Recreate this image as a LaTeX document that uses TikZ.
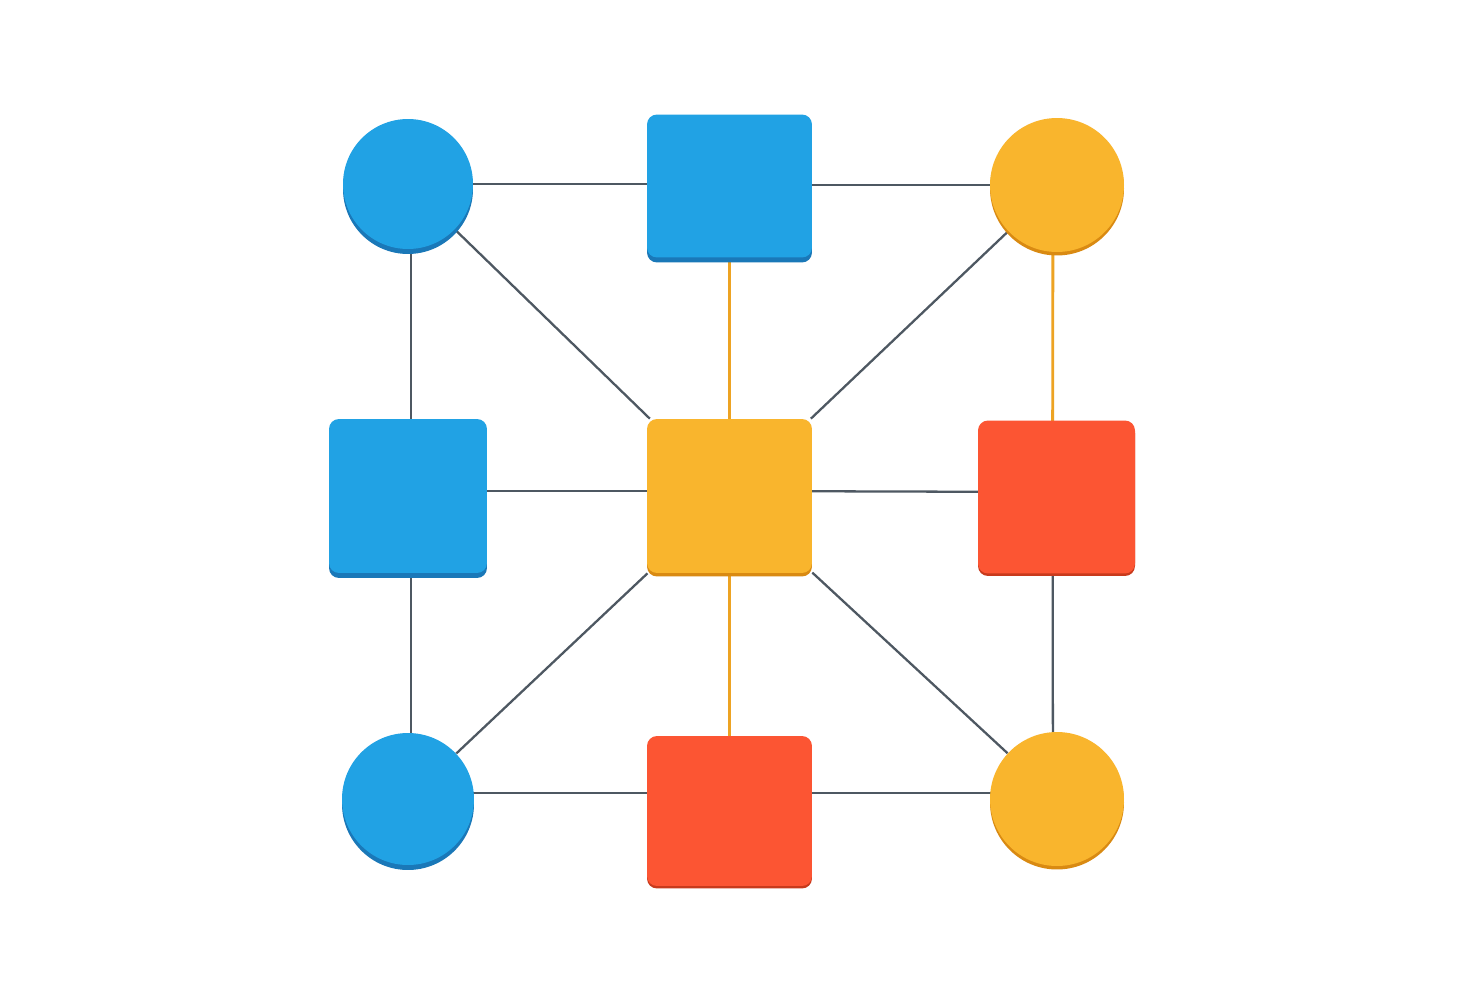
\documentclass[tikz,border=0pt]{standalone}
\usetikzlibrary{shadows,backgrounds}
\definecolor{bluef}{HTML}{21A2E4}
\definecolor{blued}{HTML}{1A78B8}
\definecolor{yelf}{HTML}{F9B52D}
\definecolor{yeld}{HTML}{D98A12}
\definecolor{redf}{HTML}{FC5533}
\definecolor{redd}{HTML}{C83A1C}
\definecolor{linegray}{HTML}{4E5862}
\definecolor{lineor}{HTML}{EDA323}
\tikzset{
  x=0.02cm, y=-0.02cm,
  disc/.style={circle, inner sep=0pt, minimum size=2.6cm},
  box/.style={rectangle, rounded corners=0.2cm, inner sep=0pt},
  bluefill/.style={fill=bluef, drop shadow={shadow xshift=0pt, shadow yshift=-0.1cm, fill=blued, opacity=1}},
  yelfill/.style={fill=yelf, drop shadow={shadow xshift=0pt, shadow yshift=-0.07cm, fill=yeld, opacity=1}},
  redfill/.style={fill=redf, drop shadow={shadow xshift=0pt, shadow yshift=-0.05cm, fill=redd, opacity=1}},
  gline/.style={draw=linegray, line width=1.3pt},
  oline/.style={draw=lineor, line width=1.6pt},
}
\begin{document}
\begin{tikzpicture}
\useasboundingbox (0,0) rectangle (1470,980);
% nodes
\node[disc, bluefill] (tl) at (408,184) {};
\node[box, bluefill, minimum width=3.3cm, minimum height=2.86cm] (tm) at (729.5,186) {};
\node[disc, yelfill, minimum size=2.68cm] (tr) at (1057,185) {};
\node[box, bluefill, minimum width=3.16cm, minimum height=3.08cm] (ml) at (408,496) {};
\node[box, yelfill, minimum width=3.3cm, minimum height=3.08cm] (c) at (729.5,496) {};
\node[box, redfill, minimum width=3.14cm, minimum height=3.06cm] (mr) at (1056.5,497) {};
\node[disc, bluefill, minimum size=2.64cm] (bl) at (408,799) {};
\node[box, redfill, minimum width=3.3cm, minimum height=3.0cm] (bm) at (729.5,811) {};
\node[disc, yelfill, minimum size=2.68cm] (br) at (1057,799) {};
% connectors
\begin{scope}[on background layer]
\fill[white] (0,0) rectangle (1470,980);
\draw[gline] (tl) -- (tl -| tm.west);
\draw[gline] (tm.east |- tr) -- (tr);
\draw[gline] ([xshift=0.06cm]tl.center) -- ([xshift=0.06cm]ml.center);
\draw[gline] (tl) -- (c);
\draw[oline] (tm) -- (c);
\draw[gline] (tr) -- (c);
\draw[oline] ([xshift=-0.08cm]tr.center) -- ([xshift=-0.08cm]mr.center);
\draw[gline] ([yshift=0.1cm]ml.center) -- ([yshift=0.1cm]c.center);
\draw[gline] ([yshift=0.1cm]c.center) -- ([yshift=0.1cm]mr.center);
\draw[gline] ([xshift=0.06cm]ml.center) -- ([xshift=0.06cm]bl.center);
\draw[gline] (c) -- (bl);
\draw[oline] (c) -- (bm);
\draw[gline] (c) -- (br);
\draw[gline] ([xshift=-0.08cm]mr.center) -- ([xshift=-0.08cm]br.center);
\draw[gline] ([yshift=0.12cm]bl.center) -- ([yshift=0.12cm]bl.center -| bm.west);
\draw[gline] ([yshift=0.12cm]br.center -| bm.east) -- ([yshift=0.12cm]br.center);
\end{scope}
\end{tikzpicture}
\end{document}
